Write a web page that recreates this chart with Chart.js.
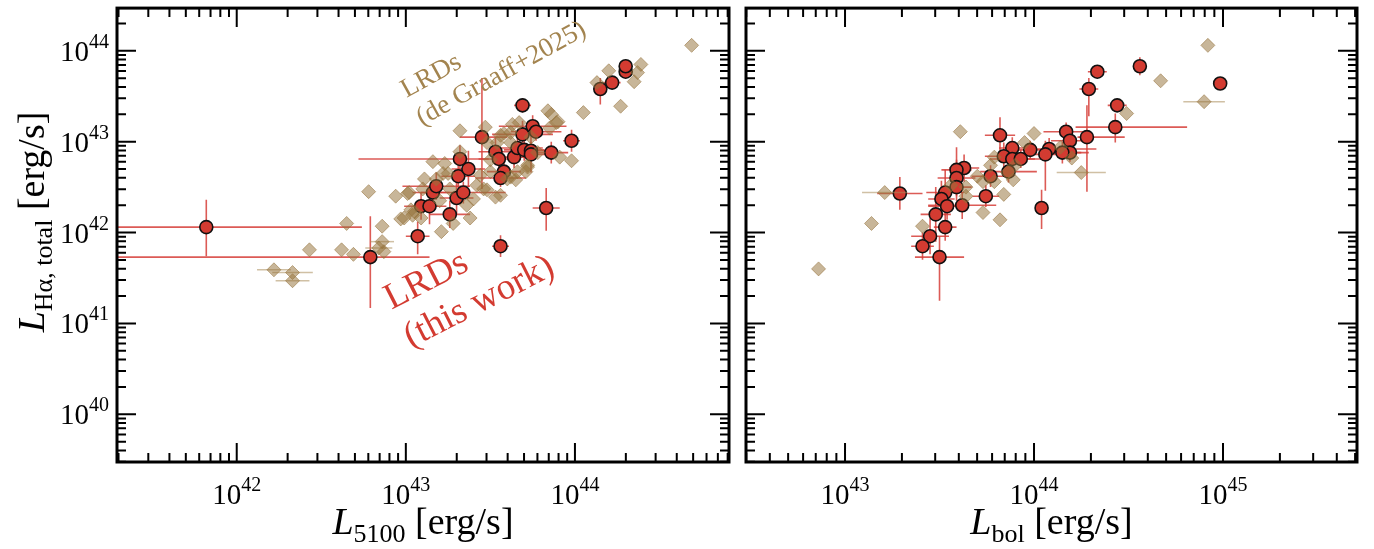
<!DOCTYPE html>
<html>
<head>
<meta charset="utf-8">
<script src="https://cdn.jsdelivr.net/npm/chart.js@4.4.1/dist/chart.umd.min.js"></script>
<style>
    html, body { margin: 0; padding: 0; background: #fff; }
    #wrap { position: relative; width: 1374px; height: 549px; }
    canvas { position: absolute; left: 0; top: 0; }
</style>
</head>
<body>
<div id="wrap">
    <canvas id="panelA" width="1374" height="549"></canvas>
    <canvas id="panelB" width="1374" height="549"></canvas>
</div>
<script>
// All luminosities are log10 values in erg/s.
// Error bars are in dex: a number is symmetric, [lo, hi] is asymmetric.

// Axis ranges (log10) and labelled decades
const rangeL5100 = [41.292, 44.911];
const rangeLbol = [42.476, 45.709];
const rangeLHa = [39.475, 44.47];
const ticksL5100 = [42, 43, 44];
const ticksLbol = [43, 44, 45];
const ticksLHa = [40, 41, 42, 43, 44];

// Left panel, this work
const redL5100 = [41.82, 42.79, 43.07, 43.09, 43.14, 43.26, 43.16, 43.18, 43.30, 43.34, 43.31, 43.37,
    43.32, 43.45, 43.53, 43.55, 43.64, 43.66, 43.70, 43.74, 43.74, 43.86, 43.58, 43.56, 43.69, 43.69,
    43.75, 43.77, 43.98, 43.83, 43.56, 44.15, 44.22, 44.30, 44.30];
const redLHaA = [42.06, 41.73, 41.96, 42.29, 42.29, 42.20, 42.44, 42.51, 42.38, 42.44, 42.62, 42.70,
    42.81, 43.05, 42.89, 42.81, 42.83, 42.93, 42.91, 42.90, 42.86, 42.88, 42.67, 42.60, 43.40, 43.08,
    43.17, 43.11, 43.01, 42.27, 41.85, 43.58, 43.65, 43.77, 43.83];
const redL5100Err = [[1.5, 0.92], [1.6, 0.35], 0.07, 0.1, 0.1, 0.12, [0.12, 0.1], 0.2, 0.1, 0.25, 0.1, 0.1,
    [0.6, 0.17], [0.13, 0.15], 0.1, 0.12, 0.1, 0.15, 0.12, 0.1, 0.1, 0.1, 0.1, 0.15, 0.05, 0.18,
    0.2, 0.15, 0.05, 0.08, 0.05, 0.04, 0.05, 0.04, 0.04];
const redLHaAErr = [[0.32, 0.30], [0.56, 0.45], [0.20, 0.16], 0.15, 0.2, 0.15, 0.12, 0.15, 0.18, 0.12, 0.15, 0.2,
    0.15, [0.57, 0.65], 0.15, 0.12, 0.12, 0.15, 0.12, 0.1, 0.2, 0.12, 0.12, 0.1, 0.08, 0.15,
    0.12, 0.1, 0.12, [0.25, 0.22], 0.12, [0.17, 0.12], 0.05, 0.06, 0.06];

// Left panel, de Graaff+2025
const tanL5100 = [44.69, 44.39, 44.37, 44.35, 44.20, 44.13, 44.27, 44.05, 43.84, 43.86, 43.90, 43.98,
    43.91, 43.67, 43.32, 43.16, 43.22, 43.11, 43.01, 42.99, 43.21, 43.38, 43.53, 43.56, 43.46, 43.44,
    43.60, 43.66, 43.72, 43.48, 43.56, 43.62, 42.78, 42.94, 43.02, 42.65, 42.86, 42.97, 43.04, 42.43,
    42.62, 42.69, 42.86, 42.84, 42.87, 42.22, 42.33, 42.33, 43.03, 43.28, 43.23, 43.32, 43.47, 43.58,
    43.63, 43.89, 43.65, 43.71, 43.48, 43.05, 43.10, 43.18, 43.25, 43.26, 43.40, 43.42, 43.50, 43.54,
    43.62, 43.74, 43.72, 43.62, 43.09, 43.78, 43.36, 43.20, 43.50, 43.85];
const tanLHaA = [44.06, 43.85, 43.76, 43.66, 43.78, 43.65, 43.39, 43.32, 43.34, 43.30, 43.22, 42.79,
    42.83, 43.21, 43.12, 42.78, 42.65, 42.59, 42.43, 42.16, 42.01, 42.16, 42.39, 42.41, 42.48, 42.63,
    42.59, 42.67, 42.74, 42.99, 43.07, 43.10, 42.45, 42.40, 42.44, 42.10, 42.07, 42.15, 42.19, 41.81,
    41.81, 41.76, 41.90, 41.83, 41.79, 41.59, 41.56, 41.47, 42.25, 42.10, 42.76, 42.89, 43.16, 43.09,
    43.19, 43.21, 42.58, 42.67, 42.47, 42.23, 42.48, 42.59, 42.65, 42.48, 42.37, 42.52, 42.67, 42.99,
    42.99, 43.05, 42.72, 42.61, 42.16, 42.88, 42.30, 42.35, 42.80, 43.15];
const tanL5100Err = [0, 0, 0, 0, 0, 0, 0, 0, 0, 0, 0, 0,
    0, 0, 0, 0, 0, 0, 0, 0, 0, 0, 0, 0, 0, 0,
    0, 0, 0, 0, 0, 0, 0, 0, 0, 0, 0, 0, 0, 0,
    0, 0, 0.07, 0.08, 0, 0.1, 0.12, 0.1, 0, 0, 0, 0, 0, 0,
    0, 0, 0, 0, 0, 0, 0, 0, 0, 0, 0, 0, 0, 0,
    0, 0, 0, 0, 0, 0, 0, 0, 0, 0];

// Right panel, this work
const redLbol = [43.82, 43.885, 43.98, 44.08, 44.06, 43.84, 43.885, 43.93, 43.865, 43.77, 43.63, 43.59,
    43.59, 43.59, 43.745, 43.62, 43.53, 43.51, 43.54, 43.48, 43.53, 43.45, 43.41, 43.50, 43.29, 44.04,
    44.335, 44.56, 44.985, 44.29, 44.44, 44.43, 44.17, 44.19, 44.28, 44.19, 44.15];
const redLHaB = [43.07, 42.93, 42.91, 42.92, 42.86, 42.84, 42.81, 42.81, 42.67, 42.62, 42.71, 42.69,
    42.60, 42.50, 42.40, 42.30, 42.44, 42.37, 42.29, 42.20, 42.06, 41.96, 41.85, 41.73, 42.43, 42.27,
    43.77, 43.83, 43.64, 43.58, 43.40, 43.16, 43.11, 43.01, 43.05, 42.88, 42.88];
const redLbolErr = [0.08, 0.07, 0.1, [0.1, 0.25], 0.1, 0.1, 0.12, 0.12, 0.15, 0.1, 0.08, 0.08,
    0.1, 0.08, 0.07, 0.18, 0.1, 0.07, 0.1, 0.08, 0.06, 0.1, 0.06, 0.13, 0.12, 0.03,
    0.05, 0.03, 0.03, 0.05, 0.05, [0.21, 0.38], 0.12, 0.1, [0.05, 0.2], 0.1, 0.1];
const redLHaBErr = [0.2, 0.12, 0.1, 0.12, [0.4, 0.15], 0.15, 0.12, 0.1, 0.12, 0.12, 0.15, 0.25,
    0.2, 0.15, 0.12, 0.15, 0.25, 0.2, 0.15, 0.3, 0.15, 0.2, 0.15, [0.48, 0.23], 0.18, [0.23, 0.2],
    0.05, 0.1, 0.06, [0.3, 0.12], 0.05, [0.17, 0.15], 0.1, 0.1, [0.6, 0.35], 0.1, 0.12];

// Right panel, de Graaff+2025
const tanLbol = [42.86, 43.14, 43.21, 43.41, 43.61, 43.64, 43.64, 43.73, 43.82, 43.84, 43.79, 43.73,
    43.77, 43.79, 43.89, 43.95, 44.00, 43.90, 44.92, 44.67, 44.90, 44.49, 44.20, 44.25, 44.14,
    43.70, 43.86, 43.56];
const tanLHaB = [41.60, 42.10, 42.44, 42.07, 43.11, 42.50, 42.40, 42.22, 42.14, 42.42, 42.56, 42.56,
    42.74, 42.83, 42.58, 42.99, 43.09, 42.74, 44.06, 43.67, 43.44, 43.31, 42.82, 42.66, 42.94,
    42.62, 42.66, 42.52];
const tanLbolErr = [0, 0, 0.12, 0, 0, 0, 0, 0, 0, 0, 0, 0,
    0, 0, 0, 0, 0, 0, 0, 0, 0.11, 0, 0, 0.13, 0,
    0, 0, 0];

const SERIF = '"Liberation Serif", "DejaVu Serif", "Times New Roman", serif';
const RED = '#d33b31';
const TAN = '#a3844f';

const span = e => Array.isArray(e) ? e : [e, e];

function toPoints(lx, ly, ex, ey) {
    return lx.map((v, i) => {
        const [xlo, xhi] = span(ex ? ex[i] : 0);
        const [ylo, yhi] = span(ey ? ey[i] : 0);
        return {
            x: 10 ** v, y: 10 ** ly[i],
            xl: 10 ** (v - xlo), xh: 10 ** (v + xhi),
            yl: 10 ** (ly[i] - ylo), yh: 10 ** (ly[i] + yhi)
        };
    });
}

function fontOf(p) {
    return `${p.italic ? 'italic ' : ''}${p.size}px ${SERIF}`;
}

// Draws a run of text pieces (for sub/superscripts)
function drawRich(ctx, parts, x, y, align) {
    let w = 0;
    parts.forEach(p => { ctx.font = fontOf(p); w += ctx.measureText(p.t).width; });
    let cx = align === 'center' ? x - w / 2 : align === 'right' ? x - w : x;
    parts.forEach(p => {
        ctx.font = fontOf(p);
        ctx.fillText(p.t, cx, y + (p.dy || 0));
        cx += ctx.measureText(p.t).width;
    });
}

function powerLabel(n) {
    return [{ t: '10', size: 29 }, { t: String(n), size: 20, dy: -13 }];
}

function logTicks(scale) {
    const out = [];
    const lo = Math.floor(Math.log10(scale.min));
    const hi = Math.ceil(Math.log10(scale.max));
    for (let e = lo; e <= hi; e++) {
        for (let m = 1; m <= 9; m++) {
            const v = m * 10 ** e;
            if (v >= scale.min && v <= scale.max) out.push({ v, major: m === 1, exp: e });
        }
    }
    return out;
}

// Error bars, drawn just before the markers of their own dataset
const errorBarPlugin = {
    id: 'errorBars',
    beforeDatasetDraw(chart, args) {
        const ds = chart.data.datasets[args.index];
        if (!ds.errColor) return;
        const { ctx, chartArea: a, scales: { x, y } } = chart;
        ctx.save();
        ctx.beginPath();
        ctx.rect(a.left, a.top, a.right - a.left, a.bottom - a.top);
        ctx.clip();
        ctx.strokeStyle = ds.errColor;
        ctx.lineWidth = ds.errWidth;
        ds.data.forEach(p => {
            const px = x.getPixelForValue(p.x);
            const py = y.getPixelForValue(p.y);
            ctx.beginPath();
            if (p.xl !== p.xh) {
                ctx.moveTo(x.getPixelForValue(p.xl), py);
                ctx.lineTo(x.getPixelForValue(p.xh), py);
            }
            if (p.yl !== p.yh) {
                ctx.moveTo(px, y.getPixelForValue(p.yl));
                ctx.lineTo(px, y.getPixelForValue(p.yh));
            }
            ctx.stroke();
        });
        ctx.restore();
    }
};

// Box frame, inward ticks on four sides, labels, titles and notes
const framePlugin = {
    id: 'frame',
    afterDraw(chart, args, opts) {
        const { ctx, chartArea: a, scales: { x, y } } = chart;
        ctx.save();
        ctx.strokeStyle = '#000';
        ctx.fillStyle = '#000';
        ctx.lineCap = 'butt';
        ctx.lineWidth = 2;
        ctx.beginPath();
        logTicks(x).forEach(t => {
            const px = x.getPixelForValue(t.v);
            const len = t.major ? 19 : 9;
            ctx.moveTo(px, a.bottom); ctx.lineTo(px, a.bottom - len);
            ctx.moveTo(px, a.top); ctx.lineTo(px, a.top + len);
        });
        logTicks(y).forEach(t => {
            const py = y.getPixelForValue(t.v);
            const len = t.major ? 19 : 9;
            ctx.moveTo(a.left, py); ctx.lineTo(a.left + len, py);
            ctx.moveTo(a.right, py); ctx.lineTo(a.right - len, py);
        });
        ctx.stroke();
        ctx.lineWidth = 3;
        ctx.strokeRect(a.left, a.top, a.right - a.left, a.bottom - a.top);

        ctx.textBaseline = 'alphabetic';
        opts.xTicks.forEach(n => {
            drawRich(ctx, powerLabel(n), x.getPixelForValue(10 ** n), a.bottom + 42, 'center');
        });
        if (opts.yTicks) {
            opts.yTicks.forEach(n => {
                drawRich(ctx, powerLabel(n), a.left - 8, y.getPixelForValue(10 ** n) + 10, 'right');
            });
        }
        drawRich(ctx, opts.xTitle, (a.left + a.right) / 2, 534, 'center');
        if (opts.yTitle) {
            ctx.save();
            ctx.translate(44, 222);
            ctx.rotate(-Math.PI / 2);
            drawRich(ctx, opts.yTitle, 0, 0, 'center');
            ctx.restore();
        }
        (opts.notes || []).forEach(n => {
            ctx.save();
            ctx.translate(n.x, n.y);
            ctx.rotate(n.angle * Math.PI / 180);
            ctx.fillStyle = n.color;
            ctx.font = `${n.size}px ${SERIF}`;
            n.lines.forEach((line, i) => ctx.fillText(line, 0, -n.gap * (n.lines.length - 1 - i)));
            ctx.restore();
        });
        ctx.restore();
    }
};

function makePanel(canvasId, cfg) {
    return new Chart(document.getElementById(canvasId), {
        type: 'scatter',
        data: {
            datasets: [{
                label: 'LRDs (de Graaff+2025)',
                data: cfg.tan,
                pointStyle: 'rectRot',
                pointRadius: 7,
                backgroundColor: 'rgba(150, 115, 60, 0.52)',
                borderColor: 'rgba(150, 115, 60, 0.55)',
                borderWidth: 1,
                errColor: 'rgba(170, 140, 90, 0.55)',
                errWidth: 1.5
            }, {
                label: 'LRDs (this work)',
                data: cfg.red,
                pointStyle: 'circle',
                pointRadius: 6.5,
                backgroundColor: RED,
                borderColor: '#111',
                borderWidth: 1.6,
                errColor: 'rgba(214, 62, 56, 0.85)',
                errWidth: 1.6
            }]
        },
        options: {
            responsive: false,
            animation: false,
            layout: { padding: cfg.padding },
            plugins: {
                legend: { display: false },
                tooltip: { enabled: false },
                frame: cfg.frame
            },
            scales: {
                x: { type: 'logarithmic', display: false, min: 10 ** cfg.xRange[0], max: 10 ** cfg.xRange[1] },
                y: { type: 'logarithmic', display: false, min: 10 ** rangeLHa[0], max: 10 ** rangeLHa[1] }
            }
        },
        plugins: [errorBarPlugin, framePlugin]
    });
}

makePanel('panelA', {
    tan: toPoints(tanL5100, tanLHaA, tanL5100Err, null),
    red: toPoints(redL5100, redLHaA, redL5100Err, redLHaAErr),
    xRange: rangeL5100,
    padding: { left: 117, right: 645, top: 5, bottom: 87 },
    frame: {
        xTicks: ticksL5100,
        yTicks: ticksLHa,
        xTitle: [{ t: 'L', size: 38, italic: true }, { t: '5100', size: 26, dy: 8 }, { t: ' [erg/s]', size: 38 }],
        yTitle: [{ t: 'L', size: 38, italic: true }, { t: 'Hα, total', size: 26, dy: 8 }, { t: ' [erg/s]', size: 38 }],
        notes: [
            { lines: ['LRDs', '(de Graaff+2025)'], x: 422, y: 126, angle: -29, size: 27, gap: 32, color: TAN },
            { lines: ['LRDs', '(this work)'], x: 411, y: 348, angle: -27, size: 37, gap: 43, color: RED }
        ]
    }
});

makePanel('panelB', {
    tan: toPoints(tanLbol, tanLHaB, tanLbolErr, null),
    red: toPoints(redLbol, redLHaB, redLbolErr, redLHaBErr),
    xRange: rangeLbol,
    padding: { left: 746, right: 17, top: 5, bottom: 87 },
    frame: {
        xTicks: ticksLbol,
        yTicks: null,
        xTitle: [{ t: 'L', size: 38, italic: true }, { t: 'bol', size: 26, dy: 8 }, { t: ' [erg/s]', size: 38 }],
        yTitle: null,
        notes: []
    }
});
</script>
</body>
</html>
